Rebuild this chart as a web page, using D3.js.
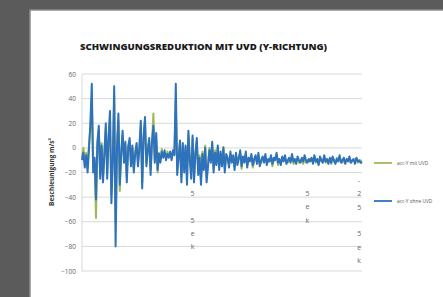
<!DOCTYPE html>
<html>
<head>
<meta charset="utf-8">
<script src="https://cdn.jsdelivr.net/npm/d3@7"></script>
<style>
  body { margin: 0; background: #5b5b5b; }
  svg { display: block; }
</style>
</head>
<body>
<svg width="443" height="297"></svg>
<script>
// Messwerte (Beschleunigung, m/s²)
var blueVals = [
  -10,-4,-16,-6,-20,0,20,52,-20,-8,
  -42,5,18,-25,2,-28,-5,20,-25,10,
  30,-45,-10,50,-80,0,28,-30,-5,14,
  -12,5,-28,0,8,-15,2,-20,-5,4,
  -15,0,22,-33,10,25,-15,-2,8,-22,
  5,18,-12,12,-18,-5,-12,-3,-8,-2,
  -10,-5,-8,-3,-10,-2,-6,52,-22,-8,
  6,-28,4,-20,2,-30,14,-10,-25,10,
  -28,-5,8,-22,-8,-30,-5,-18,0,-28,
  -15,-2,-12,5,-20,-4,-14,2,-18,-3,
  -15,0,-20,-5,-8,-16,-3,-12,-6,-18,
  -4,-14,-9,-2,-15,-7,-12,-3,-16,-8,
  -11,-5,-14,-9,-6,-13,-4,-15,-10,-7,
  -12,-5,-14,-9,-11,-6,-13,-8,-10,-4,
  -12,-9,-14,-7,-11,-6,-13,-10,-8,-12,
  -5,-11,-9,-13,-7,-10,-12,-8,-11,-6,
  -10,-12,-9,-11,-8,-13,-6,-11,-9,-14,
  -7,-10,-12,-6,-11,-9,-13,-8,-12,-7,
  -10,-13,-9,-11,-6,-12,-10,-8,-13,-9,
  -11,-7,-12,-10,-9,-13,-8,-11,-10,-12,-12];
var greenVals = [
  -8,0,-12,-4,-16,2,16,40,-18,-10,
  -57,2,14,-22,4,-24,-3,16,-20,8,
  24,-38,-8,42,-60,2,22,-35,-3,10,
  -8,2,-24,2,6,-12,0,-17,-3,2,
  -12,2,18,-28,8,20,-12,0,6,-18,
  4,28,-10,8,-20,-4,-10,-1,-6,-4,
  -8,-3,-6,-4,-8,-3,-5,38,-18,-6,
  4,-24,2,-17,0,-26,10,-8,-20,8,
  -24,-4,5,-18,-6,-26,-3,-15,2,-24,
  -12,0,-10,3,-17,-2,-12,0,-15,-5,
  -12,1,-17,-7,-10,-13,-5,-10,-8,-15,
  -6,-12,-7,-4,-17,-9,-10,-5,-14,-10,
  -9,-7,-16,-11,-8,-11,-6,-13,-12,-9,
  -10,-7,-12,-11,-9,-8,-15,-10,-8,-6,
  -14,-11,-12,-9,-9,-8,-11,-12,-10,-10,
  -7,-13,-11,-11,-9,-12,-10,-10,-13,-8,
  -12,-10,-11,-9,-10,-11,-8,-12,-10,-13,
  -9,-11,-10,-8,-12,-10,-11,-9,-13,-10,
  -11,-12,-8,-10,-9,-11,-12,-10,-11,-10,
  -9,-10,-12,-11,-10,-11,-9,-12,-11,-10,-12];
var seriesNames = ["acc-Y mit UVD", "acc-Y ohne UVD"];
var yTicks = [60, 40, 20, 0, -20, -40, -60, -80, -100];
// Kategorie-Beschriftungen (Excel stapelt die Zeichen senkrecht)
var xLabelIdx = [79, 161, 198];
var xLabelChars = [["5", "", "5", "e", "k"], ["5", "e", "k"], ["-", "2", "5", "", "5", "e", "k"]];

var svg = d3.select("svg");

// weisse Fläche
svg.append("rect").attr("x", 30).attr("y", 10).attr("width", 420).attr("height", 300)
  .attr("fill", "#ffffff").attr("stroke", "#8c8c8c").attr("stroke-width", 1.5);

var x = d3.scaleLinear().domain([0, blueVals.length - 1]).range([82, 362]);
var y = d3.scaleLinear().domain([-100, 60]).range([271, 74]);

// Gitterlinien
svg.append("g").selectAll("line").data(yTicks).enter().append("line")
  .attr("x1", 82).attr("x2", 362)
  .attr("y1", d => y(d)).attr("y2", d => y(d))
  .attr("stroke", "#d9d9d9").attr("stroke-width", 1);
svg.append("line").attr("x1", 82).attr("x2", 82).attr("y1", y(60)).attr("y2", y(-100))
  .attr("stroke", "#d9d9d9");

// y-Achse
var yAxis = svg.append("g").attr("transform", "translate(80,0)")
  .call(d3.axisLeft(y).tickValues(yTicks).tickSize(0).tickPadding(4));
yAxis.select(".domain").remove();
yAxis.selectAll("text").attr("font-family", "Open Sans, sans-serif").attr("font-size", 6.5).attr("fill", "#666");

// Linien
var line = d3.line().x((d, i) => x(i)).y(d => y(d));
svg.append("path").datum(greenVals).attr("d", line).attr("fill", "none")
  .attr("stroke", "#9bbb59").attr("stroke-width", 2).attr("stroke-linejoin", "round");
svg.append("path").datum(blueVals).attr("d", line).attr("fill", "none")
  .attr("stroke", "#2e72bd").attr("stroke-width", 2).attr("stroke-linejoin", "round");

// x-Beschriftungen
xLabelIdx.forEach(function (idx, k) {
  var startY = k === 2 ? 183 : 196;
  svg.append("g").selectAll("text").data(xLabelChars[k]).enter().append("text")
    .attr("x", x(idx)).attr("y", (d, j) => startY + j * 13.3)
    .attr("text-anchor", "middle").attr("font-family", "Open Sans, sans-serif")
    .attr("font-size", 7).attr("fill", "#666").text(d => d);
});

// Titel
svg.append("text").attr("x", 80).attr("y", 50).attr("font-family", "Open Sans, sans-serif")
  .attr("font-weight", 800).attr("font-size", 8).attr("fill", "#1a1a1a")
  .attr("textLength", 247).attr("lengthAdjust", "spacingAndGlyphs")
  .text("SCHWINGUNGSREDUKTION MIT UVD (Y-RICHTUNG)");

// y-Titel
svg.append("text").attr("transform", "translate(54,172) rotate(-90)")
  .attr("text-anchor", "middle").attr("font-family", "Open Sans, sans-serif")
  .attr("font-weight", "bold").attr("font-size", 6.5).attr("fill", "#333")
  .text("Beschleunigung m/s²");

// Legende
var legY = [163, 201];
var legColor = ["#9bbb59", "#2e72bd"];
seriesNames.forEach(function (name, k) {
  svg.append("line").attr("x1", 374).attr("x2", 392).attr("y1", legY[k]).attr("y2", legY[k])
    .attr("stroke", legColor[k]).attr("stroke-width", 1.8);
  svg.append("text").attr("x", 397).attr("y", legY[k] + 2).attr("font-family", "Open Sans, sans-serif")
    .attr("font-size", 4.8).attr("fill", "#555").text(name);
});
</script>
</body>
</html>
